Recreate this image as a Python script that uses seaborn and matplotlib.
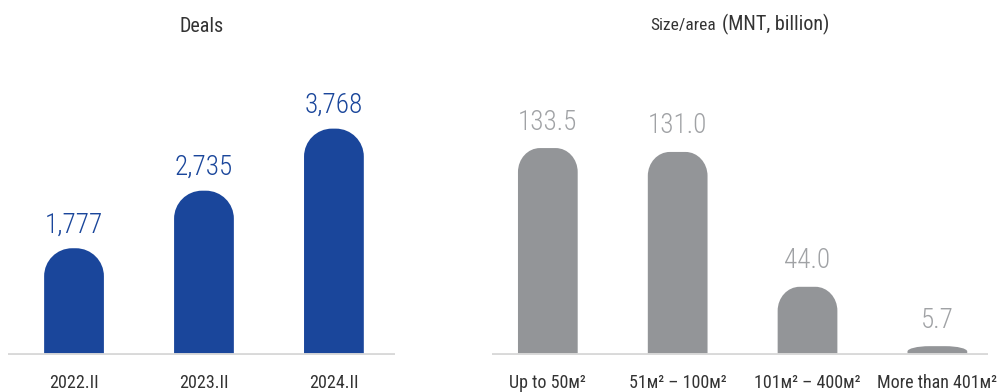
import numpy as np
import pandas as pd
import seaborn as sns
import matplotlib.pyplot as plt
from matplotlib.path import Path
from matplotlib.patches import PathPatch
from matplotlib.offsetbox import TextArea, HPacker, AnnotationBbox

# data
deal_periods = ["2022.II", "2023.II", "2024.II"]
deal_counts = [1777, 2735, 3768]
deal_labels = ["1,777", "2,735", "3,768"]

size_groups = ["Up to 50м²", "51м² – 100м²", "101м² – 400м²", "More than 401м²"]
size_values = [133.5, 131.0, 44.0, 5.7]
size_labels = ["133.5", "131.0", "44.0", "5.7"]

BLUE = "#1a469b"
GREY = "#939598"
GREY_TXT = "#a0a2a5"
DARK = "#333333"
BASE = "#d9d9d9"

sns.set_style("white")
plt.rcParams["font.family"] = ["Roboto Condensed", "Roboto", "DejaVu Sans"]

fig = plt.figure(figsize=(10, 3.92), dpi=100)
W, H = 1000, 392


def px_axes(x0, x1, ytop, ybot):
    return fig.add_axes([x0 / W, (H - ybot) / H, (x1 - x0) / W, (ybot - ytop) / H])


def round_tops(ax, r_px, ry_px):
    # swap seaborn's rectangles for bars with rounded tops
    fig.canvas.draw()
    bb = ax.get_window_extent()
    xl = ax.get_xlim()
    yl = ax.get_ylim()
    ppx = bb.width / (xl[1] - xl[0])
    ppy = bb.height / (yl[1] - yl[0])
    k = 0.5523
    for p in list(ax.patches):
        x0 = p.get_x()
        w = p.get_width()
        h = p.get_height()
        x1 = x0 + w
        rx = min(r_px / ppx, w / 2)
        ry = min(ry_px / ppy, h * 0.6)
        verts = [(x0, 0), (x0, h - ry),
                 (x0, h - ry + k * ry), (x0 + rx - k * rx, h), (x0 + rx, h),
                 (x1 - rx, h),
                 (x1 - rx + k * rx, h), (x1, h - ry + k * ry), (x1, h - ry),
                 (x1, 0), (x0, 0)]
        codes = [Path.MOVETO, Path.LINETO,
                 Path.CURVE4, Path.CURVE4, Path.CURVE4,
                 Path.LINETO,
                 Path.CURVE4, Path.CURVE4, Path.CURVE4,
                 Path.LINETO, Path.CLOSEPOLY]
        pp = PathPatch(Path(verts, codes), facecolor=p.get_facecolor(),
                       edgecolor="none", zorder=2)
        p.set_visible(False)
        ax.add_patch(pp)


def style(ax):
    for s in ax.spines.values():
        s.set_visible(False)
    ax.set_yticks([])
    ax.set_xlabel("")
    ax.set_ylabel("")
    ax.tick_params(axis="x", length=0, pad=14, labelsize=13, labelcolor=DARK)
    ax.axhline(0, color=BASE, lw=2.8, zorder=3)


# left: deals
ax1 = px_axes(8, 395, 45, 355)
df1 = pd.DataFrame({"period": deal_periods, "deals": deal_counts})
sns.barplot(data=df1, x="period", y="deals", color=BLUE, saturation=1,
            width=0.46, ax=ax1)
ax1.set_xlim(-0.508, 2.47)
ax1.set_ylim(0, 5160)
style(ax1)
for i, (v, t) in enumerate(zip(deal_counts, deal_labels)):
    ax1.annotate(t, (i, v), xytext=(0, 7), textcoords="offset points",
                 ha="center", va="bottom", fontsize=19.5, color=BLUE,
                 fontweight="light")
ax1.set_title("Deals", fontsize=14.5, color=DARK, pad=9)

# right: size/area
ax2 = px_axes(492, 988, 45, 355)
df2 = pd.DataFrame({"size": size_groups, "value": size_values})
sns.barplot(data=df2, x="size", y="value", color=GREY, saturation=1,
            width=0.46, ax=ax2)
ax2.set_xlim(-0.43, 3.39)
ax2.set_ylim(0, 200)
style(ax2)
for i, (v, t) in enumerate(zip(size_values, size_labels)):
    ax2.annotate(t, (i, v), xytext=(0, 9), textcoords="offset points",
                 ha="center", va="bottom", fontsize=19.5, color=GREY_TXT,
                 fontweight="light")

title = HPacker(children=[
    TextArea("Size/area", textprops=dict(fontsize=12.5, color=DARK)),
    TextArea("(MNT, billion)", textprops=dict(fontsize=14.5, color=DARK)),
], align="baseline", pad=0, sep=4)
ax2.add_artist(AnnotationBbox(title, (0.5, 1.0), xycoords="axes fraction",
                              xybox=(0, 15), boxcoords="offset points",
                              frameon=False, box_alignment=(0.5, 0.5)))

round_tops(ax1, 28, 28)
round_tops(ax2, 22, 24)

fig.savefig("out.png", dpi=100)
